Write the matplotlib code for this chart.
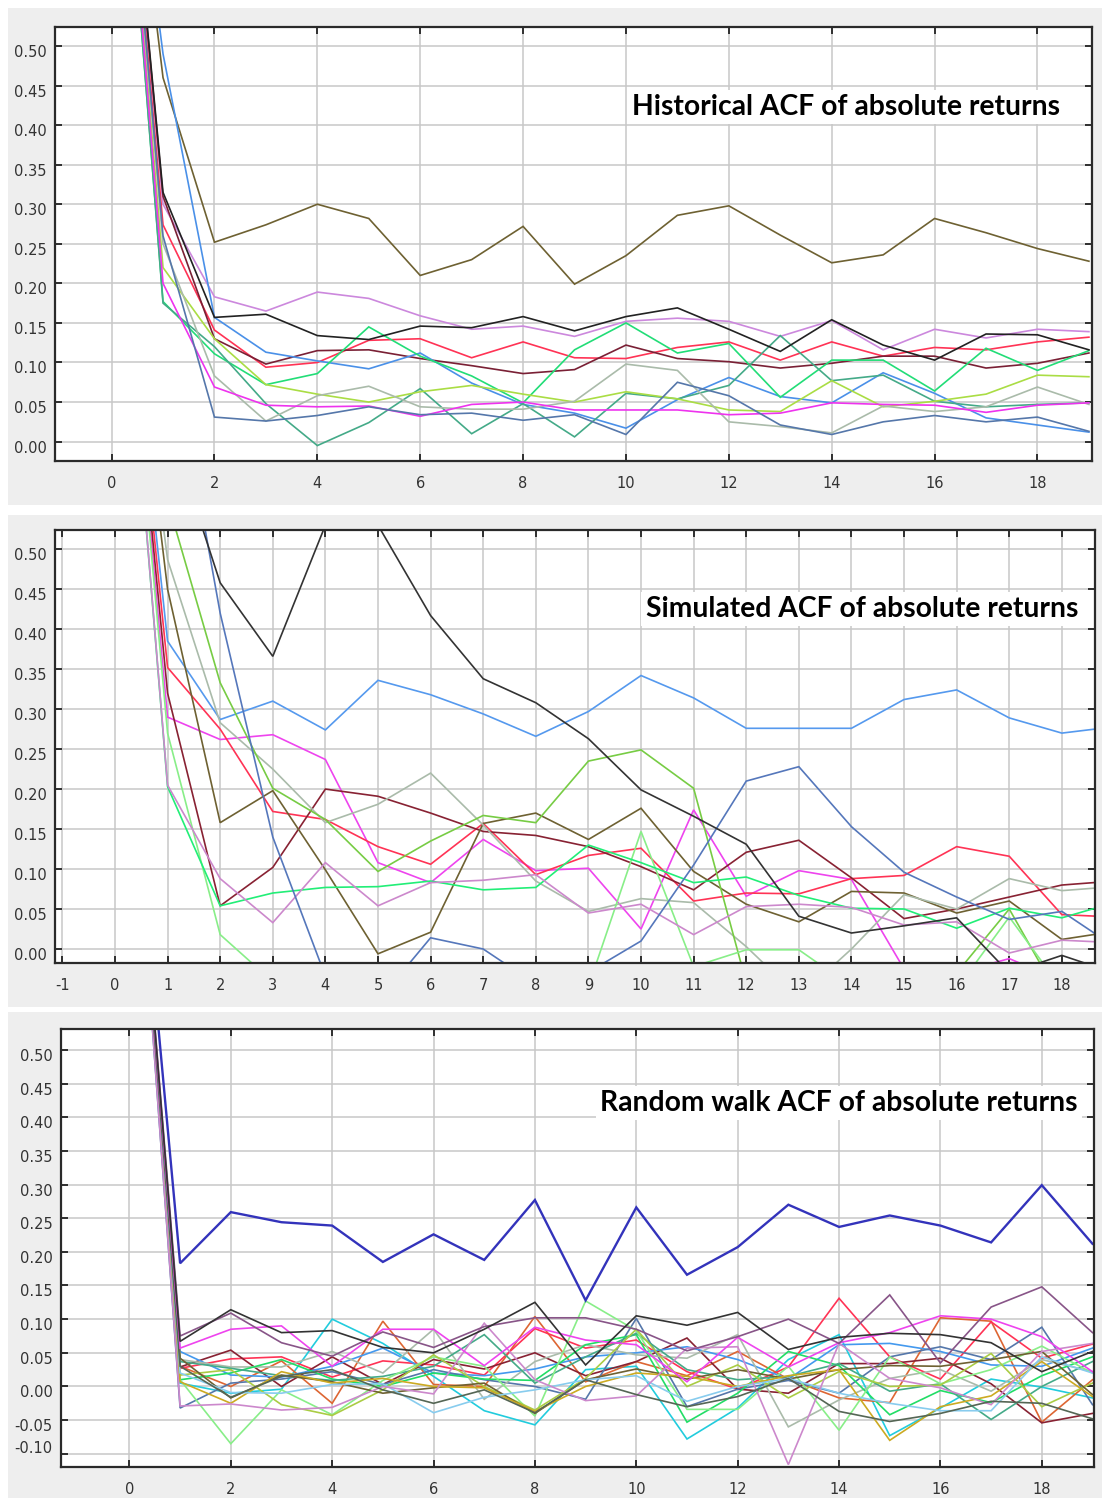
import matplotlib
matplotlib.use("Agg")
import matplotlib.pyplot as plt
import matplotlib.transforms as mtransforms
from matplotlib.patches import Rectangle
from matplotlib.ticker import FormatStrFormatter
import numpy as np

plt.rcParams["axes.unicode_minus"] = False

# ---------------- data ----------------
lags = list(range(20))

# Panel 1: Historical ACF of absolute returns
hist_olive = [1, 0.46, 0.252, 0.274, 0.300, 0.282, 0.210, 0.230, 0.272, 0.199, 0.235, 0.286, 0.298, 0.261, 0.226, 0.236, 0.282, 0.264, 0.244, 0.228]
hist_black = [1, 0.315, 0.157, 0.161, 0.134, 0.129, 0.146, 0.144, 0.158, 0.140, 0.158, 0.169, 0.142, 0.114, 0.154, 0.122, 0.103, 0.136, 0.135, 0.116]
hist_orchid = [1, 0.30, 0.183, 0.165, 0.189, 0.181, 0.159, 0.142, 0.146, 0.133, 0.152, 0.156, 0.152, 0.133, 0.153, 0.116, 0.142, 0.131, 0.142, 0.139]
hist_red = [1, 0.274, 0.141, 0.094, 0.100, 0.128, 0.130, 0.106, 0.126, 0.106, 0.105, 0.119, 0.126, 0.103, 0.126, 0.108, 0.119, 0.116, 0.126, 0.132]
hist_maroon = [1, 0.31, 0.130, 0.098, 0.115, 0.116, 0.105, 0.096, 0.086, 0.091, 0.122, 0.105, 0.101, 0.093, 0.099, 0.108, 0.108, 0.093, 0.099, 0.112]
hist_blue = [1, 0.49, 0.157, 0.113, 0.102, 0.092, 0.112, 0.074, 0.047, 0.036, 0.017, 0.053, 0.081, 0.057, 0.049, 0.087, 0.061, 0.030, 0.021, 0.012]
hist_spring = [1, 0.177, 0.111, 0.072, 0.086, 0.145, 0.108, 0.083, 0.049, 0.116, 0.150, 0.112, 0.124, 0.056, 0.103, 0.103, 0.064, 0.118, 0.090, 0.115]
hist_teal = [1, 0.175, 0.120, 0.048, -0.005, 0.024, 0.067, 0.010, 0.048, 0.006, 0.061, 0.054, 0.071, 0.134, 0.077, 0.084, 0.051, 0.044, 0.047, 0.049]
hist_yellowgreen = [1, 0.22, 0.130, 0.072, 0.060, 0.050, 0.063, 0.071, 0.060, 0.050, 0.063, 0.054, 0.040, 0.038, 0.077, 0.044, 0.051, 0.060, 0.084, 0.082]
hist_graygreen = [1, 0.25, 0.083, 0.026, 0.058, 0.070, 0.044, 0.041, 0.041, 0.051, 0.098, 0.090, 0.025, 0.019, 0.011, 0.045, 0.038, 0.044, 0.069, 0.047]
hist_magenta = [1, 0.20, 0.069, 0.046, 0.044, 0.045, 0.032, 0.047, 0.050, 0.040, 0.040, 0.040, 0.034, 0.036, 0.049, 0.047, 0.046, 0.037, 0.046, 0.049]
hist_slate = [1, 0.26, 0.031, 0.026, 0.033, 0.044, 0.034, 0.036, 0.027, 0.034, 0.009, 0.075, 0.058, 0.021, 0.009, 0.025, 0.033, 0.025, 0.031, 0.013]

# Panel 2: Simulated ACF of absolute returns
sim_black = [1, 0.66, 0.458, 0.366, 0.53, 0.53, 0.417, 0.338, 0.308, 0.263, 0.199, 0.166, 0.131, 0.041, 0.020, 0.029, 0.039, -0.03, -0.008, -0.03]
sim_blue = [1, 0.385, 0.287, 0.310, 0.274, 0.336, 0.318, 0.294, 0.266, 0.297, 0.342, 0.314, 0.276, 0.276, 0.276, 0.312, 0.324, 0.289, 0.270, 0.278]
sim_magenta = [1, 0.29, 0.262, 0.268, 0.237, 0.108, 0.083, 0.137, 0.098, 0.101, 0.025, 0.174, 0.066, 0.098, 0.087, -0.025, -0.03, -0.012, -0.04, -0.05]
sim_red = [1, 0.352, 0.275, 0.172, 0.162, 0.128, 0.106, 0.157, 0.093, 0.117, 0.126, 0.060, 0.070, 0.069, 0.088, 0.092, 0.128, 0.116, 0.043, 0.040]
sim_maroon = [1, 0.32, 0.054, 0.102, 0.200, 0.191, 0.170, 0.147, 0.142, 0.128, 0.103, 0.074, 0.121, 0.136, 0.089, 0.038, 0.050, 0.065, 0.080, 0.085]
sim_olive = [1, 0.45, 0.158, 0.198, 0.099, -0.006, 0.021, 0.157, 0.170, 0.137, 0.176, 0.097, 0.056, 0.034, 0.072, 0.070, 0.045, 0.060, 0.012, 0.022]
sim_graygreen = [1, 0.487, 0.283, 0.225, 0.158, 0.181, 0.220, 0.155, 0.085, 0.047, 0.063, 0.058, 0.003, -0.06, 0.0, 0.068, 0.050, 0.088, 0.073, 0.078]
sim_lime = [1, 0.56, 0.333, 0.201, 0.162, 0.097, 0.135, 0.167, 0.158, 0.235, 0.249, 0.201, -0.042, -0.06, -0.08, -0.07, -0.03, 0.05, -0.066, -0.05]
sim_lightgreen = [1, 0.27, 0.018, -0.041, -0.1, -0.1, -0.1, -0.09, -0.07, -0.047, 0.147, -0.022, -0.001, -0.001, -0.047, -0.07, -0.05, 0.04, -0.05, -0.06]
sim_spring = [1, 0.203, 0.054, 0.070, 0.077, 0.078, 0.085, 0.074, 0.077, 0.130, 0.108, 0.083, 0.090, 0.067, 0.051, 0.050, 0.026, 0.051, 0.039, 0.058]
sim_orchid = [1, 0.205, 0.088, 0.033, 0.108, 0.054, 0.083, 0.086, 0.093, 0.045, 0.056, 0.018, 0.053, 0.056, 0.052, 0.030, 0.034, -0.005, 0.011, 0.008]
sim_slate = [1, 0.786, 0.42, 0.14, -0.034, -0.065, 0.014, 0.0, -0.044, -0.029, 0.010, 0.105, 0.210, 0.228, 0.153, 0.096, 0.065, 0.037, 0.047, 0.003]

# Panel 3: Random walk ACF of absolute returns
rw_darkblue = [1, 0.183, 0.259, 0.244, 0.239, 0.185, 0.226, 0.188, 0.277, 0.128, 0.266, 0.166, 0.207, 0.270, 0.237, 0.254, 0.239, 0.214, 0.299, 0.212]
rw_black = [1, 0.067, 0.114, 0.080, 0.083, 0.058, 0.050, 0.085, 0.125, 0.032, 0.105, 0.091, 0.110, 0.055, 0.073, 0.079, 0.077, 0.065, 0.022, 0.052]
rw_purple = [1, 0.075, 0.109, 0.065, 0.045, 0.081, 0.058, 0.089, 0.102, 0.102, 0.085, 0.053, 0.074, 0.100, 0.064, 0.136, 0.035, 0.118, 0.148, 0.080]
rw_magenta = [1, 0.057, 0.085, 0.090, 0.030, 0.085, 0.085, 0.031, 0.088, 0.069, 0.062, 0.007, 0.073, 0.029, 0.065, 0.080, 0.105, 0.100, 0.074, 0.022]
rw_cyan = [1, 0.005, -0.010, -0.004, 0.100, 0.064, 0.015, -0.036, -0.057, 0.025, 0.030, -0.078, -0.032, 0.040, 0.077, -0.073, -0.032, 0.011, -0.001, -0.017]
rw_orange = [1, 0.030, 0.000, 0.038, -0.025, 0.097, 0.003, 0.000, 0.104, 0.007, 0.037, 0.016, 0.052, 0.011, -0.017, -0.024, 0.102, 0.097, -0.053, 0.010]
rw_red = [1, 0.027, 0.041, 0.044, 0.014, 0.038, 0.032, 0.017, 0.086, 0.057, 0.069, 0.022, -0.004, 0.029, 0.131, 0.044, 0.011, 0.096, 0.042, 0.063]
rw_maroon = [1, 0.029, 0.054, 0.000, 0.044, 0.003, 0.040, 0.026, 0.050, 0.016, 0.037, 0.072, -0.004, -0.010, 0.034, 0.034, 0.042, 0.004, -0.054, -0.040]
rw_blue = [1, 0.052, 0.017, 0.014, 0.030, 0.057, 0.020, 0.016, 0.026, 0.044, 0.050, 0.059, 0.040, 0.011, 0.062, 0.064, 0.052, 0.032, 0.030, 0.057]
rw_slate = [1, -0.032, 0.005, 0.011, 0.022, 0.003, 0.025, 0.010, 0.000, -0.019, 0.101, -0.030, -0.004, 0.009, -0.010, 0.044, 0.059, 0.040, 0.088, -0.027]
rw_graygreen = [1, 0.040, 0.029, 0.029, 0.052, 0.020, 0.085, -0.019, 0.037, 0.062, 0.047, 0.042, 0.077, -0.060, -0.020, 0.012, 0.025, -0.007, 0.040, 0.022]
rw_spring = [1, 0.010, 0.020, 0.040, 0.011, 0.000, 0.020, 0.011, 0.009, 0.062, 0.077, -0.053, -0.010, 0.052, 0.031, -0.042, -0.006, -0.024, 0.016, 0.044]
rw_teal = [1, 0.037, 0.027, 0.016, 0.009, 0.015, 0.030, 0.077, 0.005, 0.044, 0.079, 0.025, 0.010, 0.015, 0.034, -0.007, 0.004, -0.049, 0.000, 0.037]
rw_lightgreen = [1, 0.010, -0.085, -0.005, -0.042, 0.009, 0.044, 0.030, -0.044, 0.127, 0.083, -0.034, -0.034, 0.030, -0.065, 0.044, 0.004, 0.025, 0.060, 0.020]
rw_yellowgreen = [1, 0.017, 0.025, -0.027, -0.043, -0.005, 0.047, 0.000, -0.035, 0.012, 0.085, 0.000, 0.032, -0.017, 0.022, 0.000, 0.002, 0.049, -0.030, 0.005]
rw_olive = [1, 0.042, -0.017, 0.017, 0.007, -0.010, -0.002, 0.005, -0.040, 0.010, 0.026, 0.011, 0.025, 0.011, 0.025, 0.031, 0.030, 0.040, 0.052, -0.012]
rw_gold = [1, 0.007, -0.025, 0.022, 0.005, 0.012, 0.000, -0.002, -0.037, 0.000, 0.020, 0.015, 0.000, 0.016, 0.025, -0.080, -0.030, -0.014, 0.037, -0.015]
rw_lightblue = [1, 0.020, -0.009, -0.010, 0.003, 0.004, -0.039, -0.016, -0.005, 0.010, 0.016, -0.022, 0.000, 0.012, -0.010, -0.025, -0.036, -0.036, 0.044, 0.020]
rw_orchid = [1, -0.029, -0.026, -0.035, -0.031, 0.000, -0.011, 0.094, 0.010, -0.021, -0.014, 0.057, 0.059, -0.116, 0.064, 0.012, -0.002, -0.027, 0.052, 0.064]
rw_darkgray = [1, 0.030, -0.016, 0.015, 0.025, -0.005, -0.025, -0.005, -0.039, 0.010, -0.012, -0.030, -0.015, 0.012, -0.037, -0.052, -0.040, -0.022, -0.025, -0.048]

titles = ["Historical ACF of absolute returns",
          "Simulated ACF of absolute returns",
          "Random walk ACF of absolute returns"]

hist_xticks = list(range(0, 19, 2))
sim_xticks = list(range(-1, 19))
rw_xticks = list(range(0, 19, 2))
hist_yticks = [0.00, 0.05, 0.10, 0.15, 0.20, 0.25, 0.30, 0.35, 0.40, 0.45, 0.50]
rw_yticks = [-0.10, -0.05] + hist_yticks

# ---------------- styling ----------------
W, H = 1104, 1501
fig = plt.figure(figsize=(W / 100, H / 100), dpi=100)
fig.patch.set_facecolor("white")

def fig_rect(l, t, r, b):
    return [l / W, 1 - b / H, (r - l) / W, (b - t) / H]

for (x0, y0, x1, y1) in [(8, 8, 1102, 505), (8, 515, 1102, 1007), (8, 1012, 1102, 1498)]:
    fig.add_artist(Rectangle((x0 / W, 1 - y1 / H), (x1 - x0) / W, (y1 - y0) / H,
                             transform=fig.transFigure, facecolor="#EEEEEE",
                             edgecolor="none", zorder=0))

panel1 = [(hist_olive, "#6E6132"), (hist_orchid, "#CC88DD"), (hist_red, "#FF3355"),
          (hist_maroon, "#7A2035"), (hist_blue, "#4A90E8"), (hist_spring, "#22DD77"),
          (hist_teal, "#44AA88"), (hist_yellowgreen, "#AADD44"), (hist_graygreen, "#AABBAA"),
          (hist_magenta, "#EE33EE"), (hist_slate, "#5577AA"), (hist_black, "#222222")]
panel2 = [(sim_blue, "#5599EE"), (sim_magenta, "#EE44EE"), (sim_red, "#FF3355"),
          (sim_maroon, "#882233"), (sim_olive, "#6E6132"), (sim_graygreen, "#AABBAA"),
          (sim_lime, "#77CC44"), (sim_lightgreen, "#88EE88"), (sim_spring, "#22EE77"),
          (sim_orchid, "#CC88CC"), (sim_slate, "#5577BB"), (sim_black, "#333333")]
panel3 = [(rw_cyan, "#22CCDD"), (rw_orange, "#DD6633"), (rw_red, "#FF3355"),
          (rw_maroon, "#882233"), (rw_blue, "#4499EE"), (rw_slate, "#5577AA"),
          (rw_graygreen, "#AABBAA"), (rw_spring, "#22DD66"), (rw_teal, "#44AA88"),
          (rw_lightgreen, "#88EE88"), (rw_yellowgreen, "#AACC44"), (rw_olive, "#6E6132"),
          (rw_gold, "#CCAA22"), (rw_lightblue, "#88CCEE"), (rw_orchid, "#CC88CC"),
          (rw_darkgray, "#556655"), (rw_magenta, "#EE44EE"), (rw_purple, "#885588"),
          (rw_black, "#333333"), (rw_darkblue, "#3333BB")]

specs = [
    dict(rect=fig_rect(55, 27, 1092, 461), xlim=(-1.10, 19.06), ylim=(-0.0245, 0.524),
         xticks=hist_xticks, yticks=hist_yticks, series=panel1, title=titles[0],
         tpos=(1060, 107)),
    dict(rect=fig_rect(55, 530, 1095, 963), xlim=(-1.14, 18.63), ylim=(-0.0175, 0.524),
         xticks=sim_xticks, yticks=hist_yticks, series=panel2, title=titles[1],
         tpos=(1078, 609)),
    dict(rect=fig_rect(61, 1029, 1094, 1467), xlim=(-1.35, 19.03), ylim=(-0.1196, 0.531),
         xticks=rw_xticks, yticks=rw_yticks, series=panel3, title=titles[2],
         tpos=(1078, 1103)),
]

axes = []
for sp in specs:
    ax = fig.add_axes(sp["rect"])
    ax.set_facecolor("white")
    ax.set_xlim(*sp["xlim"])
    ax.set_ylim(*sp["ylim"])
    ax.set_xticks(sp["xticks"])
    ax.set_yticks(sp["yticks"])
    ax.yaxis.set_major_formatter(FormatStrFormatter("%.2f"))
    ax.set_axisbelow(True)
    ax.grid(True, color="#C8C8C8", linewidth=1.1)
    for s in ax.spines.values():
        s.set_color("#2A2A2A")
        s.set_linewidth(1.6)
    ax.tick_params(direction="in", length=5, width=1.3, color="#222222",
                   top=True, right=True, labelsize=10.5, labelcolor="#333333")
    ax.tick_params(axis="x", pad=11)
    ax.tick_params(axis="y", pad=6)
    for vals, col in sp["series"]:
        lw = 1.7 if col == "#3333BB" else 1.2
        ax.plot(lags, vals, color=col, linewidth=lw, solid_joinstyle="miter")
    tx, ty = sp["tpos"]
    fig.text(tx / W, 1 - ty / H, sp["title"], ha="right", va="center",
             fontsize=20.3, fontweight="bold", family=["Lato", "DejaVu Sans"],
             color="black", zorder=5,
             bbox=dict(facecolor="white", edgecolor="none", pad=3))
    axes.append(ax)

# shift y tick labels slightly below their gridlines, like the source
down = mtransforms.ScaledTranslation(0, -5 / 100, fig.dpi_scale_trans)
up = mtransforms.ScaledTranslation(0, 7 / 100, fig.dpi_scale_trans)
for i, ax in enumerate(axes):
    for lab in ax.get_yticklabels():
        tr = lab.get_transform() + down
        if i == 2 and lab.get_text().startswith("-0.10"):
            tr = lab.get_transform() + up
        lab.set_transform(tr)

fig.savefig("out.png", dpi=100, facecolor="white")
